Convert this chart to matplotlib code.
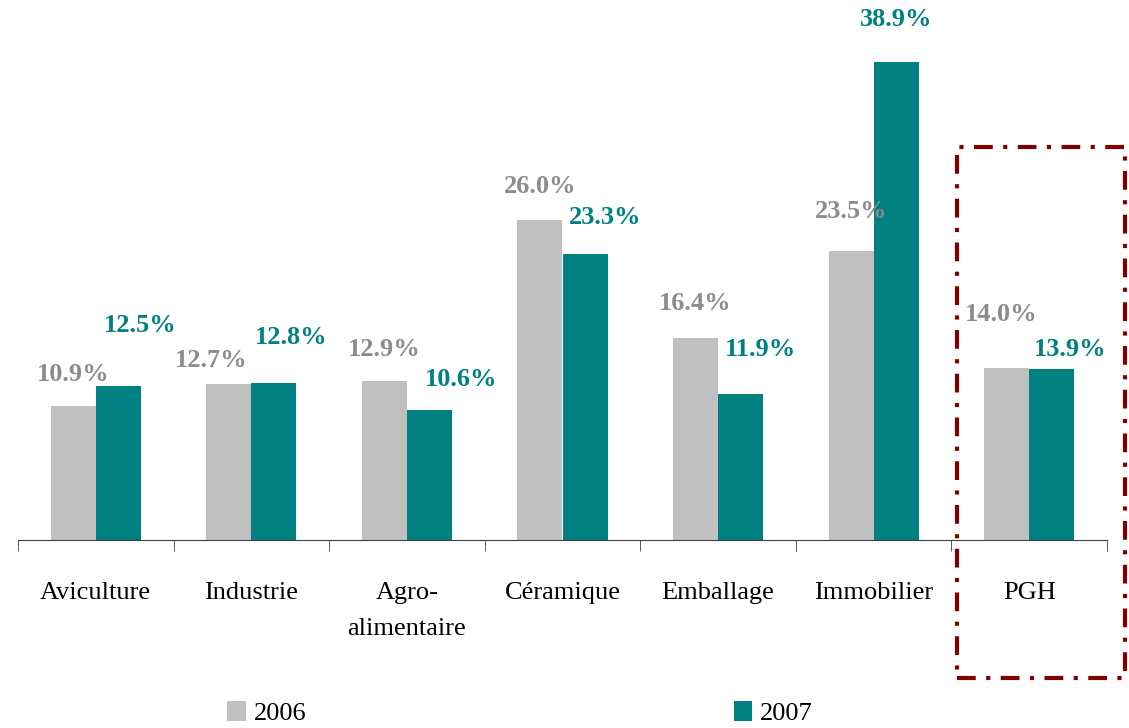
import numpy as np
import matplotlib.pyplot as plt
from matplotlib.patches import Rectangle

plt.rcParams['font.family'] = ['Liberation Serif', 'DejaVu Serif']

categories = ['Aviculture', 'Industrie', 'Agro-\nalimentaire', 'Céramique',
              'Emballage', 'Immobilier', 'PGH']
vals_2006 = [10.9, 12.7, 12.9, 26.0, 16.4, 23.5, 14.0]
vals_2007 = [12.5, 12.8, 10.6, 23.3, 11.9, 38.9, 13.9]
series = ['2006', '2007']

# label nudges in pixels (dx, dy) from the bar top centre
nudge_2006 = [(0, 32), (-18, 23), (0, 32), (0, 34), (0, 35), (0, 40), (-5, 53)]
nudge_2007 = [(22, 61), (17, 45), (32, 30), (20, 36), (20, 44), (0, 42), (18, 20)]

GREY = '#C0C0C0'
TEAL = '#008080'
GREY_TXT = '#8C8C8C'

fig = plt.figure(figsize=(11.29, 7.28), dpi=100)
ax = fig.add_axes([18 / 1129, 188 / 728, 1089 / 1129, 540 / 728])

x = np.arange(len(categories))
w = 0.29
b1 = ax.bar(x - w / 2, vals_2006, w, color=GREY, label=series[0])
b2 = ax.bar(x + w / 2, vals_2007, w, color=TEAL, label=series[1])

for rect, v, (dx, dy) in zip(b1, vals_2006, nudge_2006):
    ax.annotate(f'{v:.1f}%', (rect.get_x() + rect.get_width() / 2, v),
                xytext=(dx, dy), textcoords='offset pixels',
                ha='center', va='center', fontsize=19, fontweight='bold',
                color=GREY_TXT)
for rect, v, (dx, dy) in zip(b2, vals_2007, nudge_2007):
    ax.annotate(f'{v:.1f}%', (rect.get_x() + rect.get_width() / 2, v),
                xytext=(dx, dy), textcoords='offset pixels',
                ha='center', va='center', fontsize=19, fontweight='bold',
                color=TEAL)

ax.set_xlim(-0.5, len(categories) - 0.5)
ax.set_ylim(0, 540 / 12.29)
ax.set_yticks([])
for s in ['top', 'right', 'left']:
    ax.spines[s].set_visible(False)
ax.spines['bottom'].set_color('#404040')

ax.set_xticks(x)
ax.set_xticklabels(categories, fontsize=19, va='top', linespacing=1.85)
ax.tick_params(axis='x', which='major', length=0, pad=30)
ax.set_xticks(np.arange(-0.5, len(categories)), minor=True)
ax.tick_params(axis='x', which='minor', length=8, color='#404040')

# dash-dot box around PGH
box = Rectangle((957 / 1129, 50 / 728), 168 / 1129, 531 / 728,
                transform=fig.transFigure, fill=False, edgecolor='#800000',
                linewidth=3, linestyle=(0, (4.5, 2.5, 1, 2.5)), clip_on=False)
fig.patches.append(box)

fig.legend(handles=[b1, b2], labels=series, loc='center', ncol=2,
           bbox_to_anchor=(520 / 1129, 15 / 728), frameon=False,
           fontsize=19, handlelength=0.7, handleheight=0.8,
           handletextpad=0.3, columnspacing=16.2, borderpad=0.1)

fig.savefig('out.png', dpi=100)
